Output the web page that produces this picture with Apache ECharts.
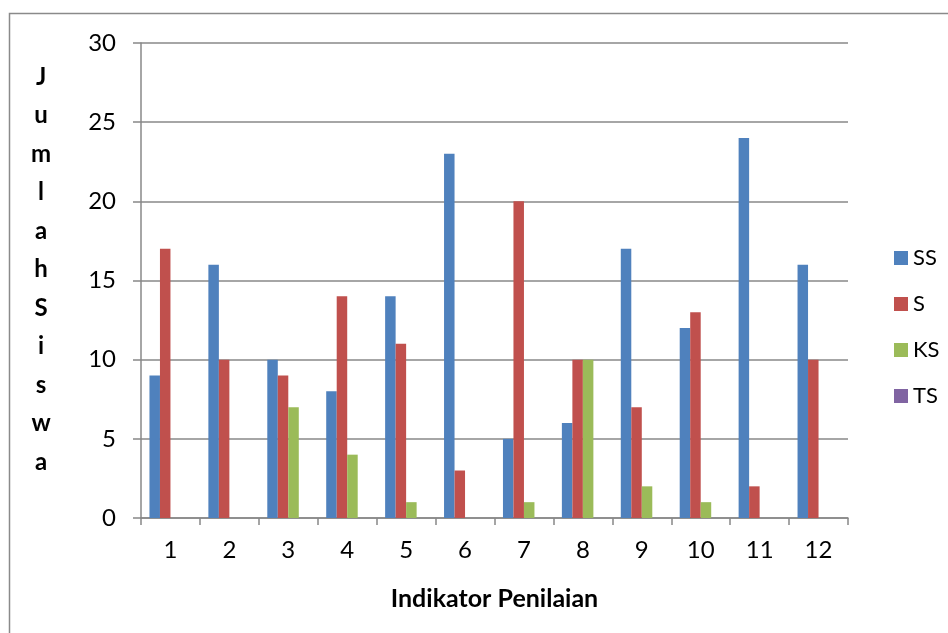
<!DOCTYPE html>
<html><head><meta charset="utf-8">
<script src="https://cdn.jsdelivr.net/npm/echarts@6/dist/echarts.min.js"></script>
<style>html,body{margin:0;padding:0;background:#fff}#c{width:948px;height:633px}</style>
</head><body><div id="c"></div>
<script>
const categories = ['1','2','3','4','5','6','7','8','9','10','11','12'];
const seriesNames = ['SS','S','KS','TS'];
const ssValues = [9,16,10,8,14,23,5,6,17,12,24,16];
const sValues = [17,10,9,14,11,3,20,10,7,13,2,10];
const ksValues = [0,0,7,4,1,0,1,10,2,1,0,0];
const tsValues = [0,0,0,0,0,0,0,0,0,0,0,0];
const colors = ['#4F81BD','#C0504D','#9BBB59','#8064A2'];
const yTitleLetters = ['J','u','m','l','a','h','S','i','s','w','a'];

const chart = echarts.init(document.getElementById('c'), null, {renderer:'canvas'});
const font = 'Lato, "Open Sans", sans-serif';
const all = [ssValues, sValues, ksValues, tsValues];
chart.setOption({
  animation:false,
  textStyle:{fontFamily:font},
  color:colors,
  graphic:[
    {type:'rect', shape:{x:9.5,y:13.5,width:960,height:640}, style:{fill:'none',stroke:'#8a8a8a',lineWidth:1.5}, silent:true},
    {type:'text', left:31, top:58, style:{text:yTitleLetters.join('\n'), font:'bold 24px '+font, lineHeight:38.5, textAlign:'center', fill:'#000'}}
  ],
  grid:{left:141, right:100, top:43, bottom:115, containLabel:false},
  legend:{
    orient:'vertical', left:889, top:242, itemGap:24, itemWidth:14, itemHeight:14,
    icon:'rect', textStyle:{fontSize:22, color:'#000', fontFamily:font},
    data:seriesNames
  },
  xAxis:{
    type:'category', data:categories,
    name:'Indikator Penilaian', nameLocation:'middle', nameGap:68,
    nameTextStyle:{fontSize:25, fontWeight:'bold', color:'#000', fontFamily:font},
    axisLine:{lineStyle:{color:'#888', width:1.5}},
    axisTick:{show:true, length:7, lineStyle:{color:'#888', width:1.5}},
    axisLabel:{fontSize:24, color:'#000', margin:20, fontFamily:font}
  },
  yAxis:{
    type:'value', min:0, max:30, interval:5,
    axisLine:{show:true, lineStyle:{color:'#888', width:1.5}},
    axisTick:{show:true, length:8, lineStyle:{color:'#888', width:1.5}},
    splitLine:{lineStyle:{color:'#888', width:1.5}},
    axisLabel:{fontSize:24, color:'#000', margin:25, fontFamily:font}
  },
  series: seriesNames.map((n,i)=>({
    name:n, type:'bar', data:all[i], barWidth:10.5, barGap:'0%',
    itemStyle:{color:colors[i]}
  }))
});
</script></body></html>
